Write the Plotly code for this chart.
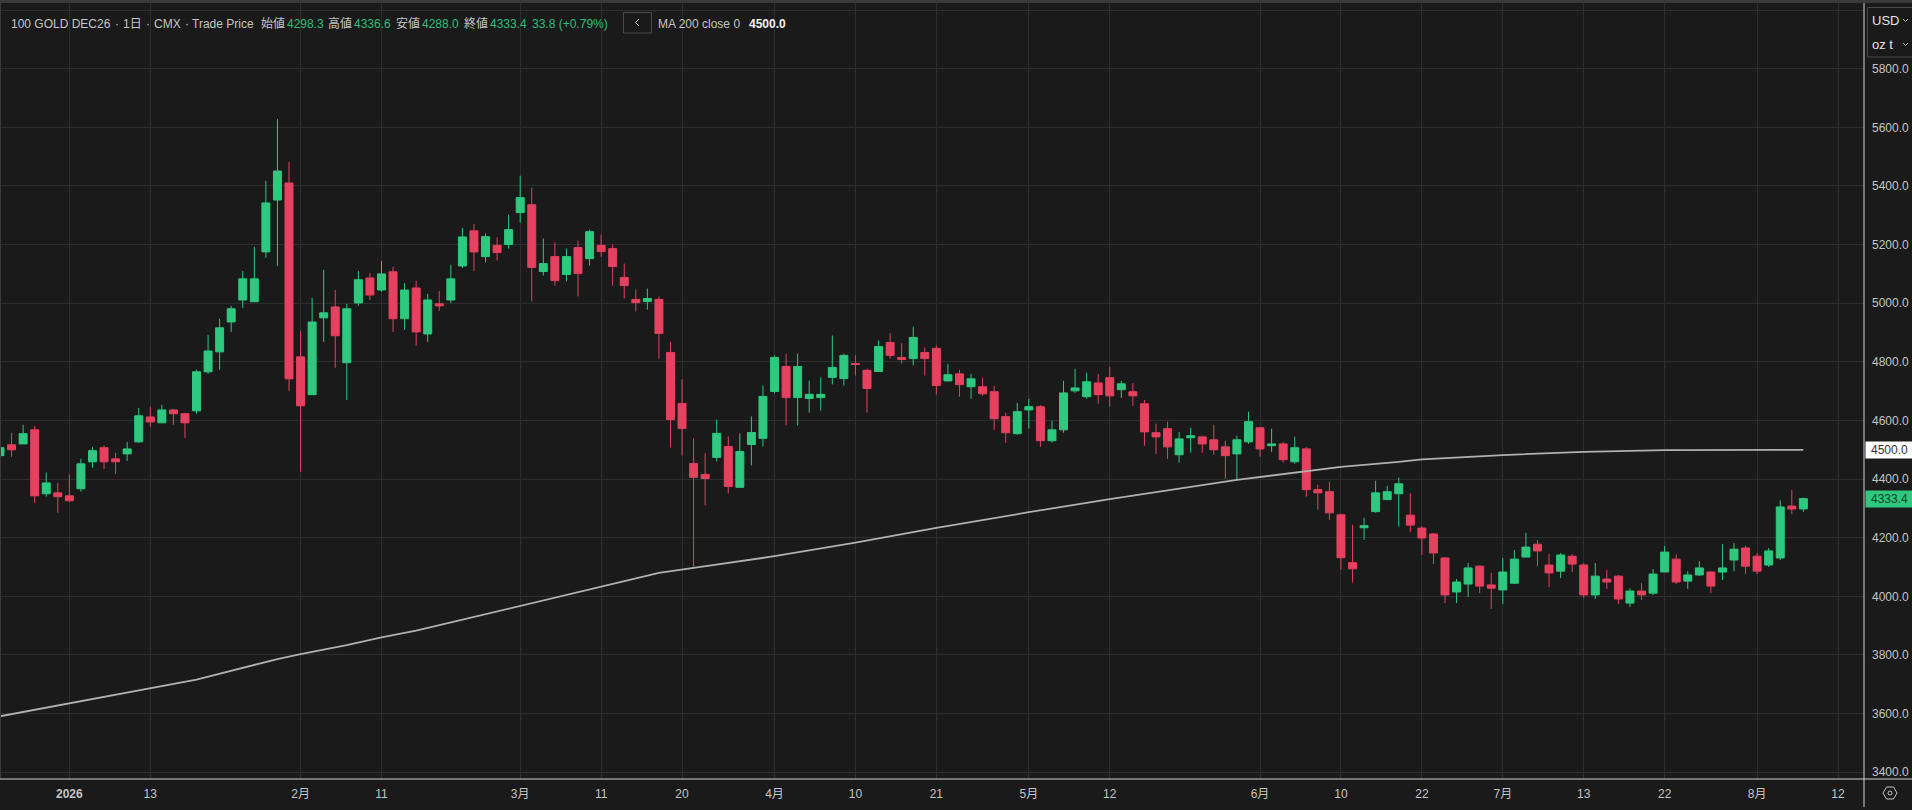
import plotly.graph_objects as go

# ---------- data ----------
opens = [4480,4517,4520,4568,4350,4353,4343,4367,4459,4507,
4469,4486,4527,4612,4592,4636,4623,4633,4766,4834,
4936,5011,5005,5175,5352,5410,4817,4688,4950,4987,
4797,5001,5086,5045,5107,4947,5052,4895,4998,5011,
5127,5247,5159,5197,5200,5309,5336,5108,5159,5098,
5190,5152,5197,5186,5088,5013,5006,5013,4832,4658,
4453,4416,4474,4511,4372,4518,4539,4699,4784,4678,
4675,4678,4747,4743,4794,4771,4767,4866,4815,4811,
4832,4846,4735,4759,4715,4715,4698,4613,4555,4636,
4647,4531,4568,4701,4681,4728,4746,4705,4698,4657,
4558,4572,4483,4541,4544,4534,4510,4486,4527,4575,
4514,4520,4459,4503,4364,4357,4278,4115,4234,4289,
4330,4350,4277,4233,4213,4131,4015,4042,4103,4039,
4022,4045,4134,4178,4107,4086,4137,4107,4005,4059,
4069,3977,4018,4011,4083,4127,4052,4073,4083,4083,
4124,4165,4137,4107,4131,4308,4298.3]
highs = [4514,4558,4585,4582,4422,4387,4415,4469,4510,4514,
4490,4527,4643,4647,4653,4640,4626,4773,4892,4947,
4991,5110,5192,5417,5628,5482,4906,5018,5114,5045,
4998,5110,5103,5144,5124,5069,5076,5032,5042,5131,
5257,5270,5238,5224,5302,5435,5394,5221,5207,5186,
5214,5251,5234,5200,5135,5047,5050,5023,4869,4740,
4539,4488,4603,4546,4556,4614,4719,4822,4828,4828,
4736,4747,4890,4828,4822,4777,4873,4897,4863,4920,
4849,4856,4793,4773,4759,4746,4718,4626,4660,4674,
4653,4599,4735,4776,4763,4759,4783,4735,4728,4670,
4589,4596,4561,4575,4548,4585,4531,4548,4630,4578,
4572,4527,4544,4510,4381,4391,4282,4244,4268,4394,
4377,4405,4352,4240,4216,4134,4059,4114,4106,4080,
4131,4158,4216,4192,4144,4148,4144,4114,4114,4090,
4073,4028,4045,4093,4172,4144,4086,4120,4086,4178,
4182,4172,4148,4165,4328,4363,4336.6]
lows = [4475,4476,4519,4319,4340,4285,4323,4357,4439,4435,
4418,4462,4524,4578,4592,4585,4541,4623,4759,4773,
4902,4984,5005,5155,5127,4701,4425,4688,4868,4780,
4670,4991,5011,5039,4902,4909,4855,4868,4974,5001,
5120,5110,5139,5146,5186,5275,5006,5094,5060,5074,
5023,5128,5159,5060,5016,4972,4978,4811,4508,4481,
4101,4310,4460,4351,4372,4447,4511,4692,4583,4583,
4627,4634,4723,4719,4753,4627,4767,4811,4794,4788,
4753,4689,4733,4681,4674,4684,4568,4524,4551,4572,
4510,4524,4558,4694,4674,4657,4647,4677,4650,4514,
4486,4469,4456,4490,4490,4483,4401,4398,4520,4476,
4493,4456,4452,4340,4296,4261,4091,4047,4193,4285,
4330,4238,4219,4141,4110,3977,3977,3998,4011,3957,
3974,4042,4134,4103,4032,4062,4083,3994,3991,4025,
3974,3964,3988,4005,4083,4042,4025,4069,4011,4056,
4086,4076,4076,4100,4124,4281,4288]
closes = [4507,4500,4555,4343,4387,4340,4326,4452,4497,4459,
4459,4503,4616,4595,4636,4623,4592,4766,4837,4916,
4981,5083,5083,5342,5451,4742,4650,4936,4967,4889,
4981,5080,5028,5100,4947,5045,4902,5011,4991,5083,
5226,5175,5227,5173,5251,5360,5122,5135,5077,5159,
5101,5244,5176,5125,5060,5002,5016,4897,4603,4573,
4406,4402,4556,4375,4494,4559,4682,4815,4678,4784,
4689,4689,4781,4822,4791,4709,4852,4822,4808,4883,
4811,4719,4756,4722,4742,4691,4606,4558,4630,4647,
4531,4568,4694,4711,4732,4688,4684,4725,4684,4561,
4544,4510,4537,4548,4520,4500,4480,4534,4596,4503,
4520,4466,4507,4364,4353,4285,4132,4094,4241,4353,
4357,4384,4243,4199,4148,4005,4049,4097,4035,4028,
4083,4127,4168,4155,4080,4141,4110,4005,4069,4049,
3991,4018,4005,4076,4151,4049,4073,4097,4035,4097,
4161,4103,4086,4155,4305,4298,4333.4]
session_index = list(range(len(opens)))

ma_index = [0,6,13,17,24,26,30,33,36,41,45,49,52,57,60,67,74,81,89,96,107,109,116,121,123,130,137,144,152,156]
ma_values = [3591,3635,3688,3716,3786,3803,3834,3860,3883,3930,3969,4007,4035,4080,4097,4137,4183,4234,4287,4332,4397,4407,4442,4459,4467,4482,4493,4499,4501,4500]

x_tick_index = [6,13,26,33,45,52,59,67,74,81,89,96,109,116,123,130,137,144,152,159]
x_tick_labels = ["<b>2026</b>","13","2月","11","3月","11","20","4月","10","21","5月","12","6月","10","22","7月","13","22","8月","12"]
y_tick_values = [3400,3600,3800,4000,4200,4400,4600,4800,5000,5200,5400,5600,5800,6000]
y_tick_labels = ["3400.0","3600.0","3800.0","4000.0","4200.0","4400.0","4600.0","4800.0","5000.0","5200.0","5400.0","5600.0","5800.0",""]

# ---------- style ----------
BG = "#1a1a1a"
GRID = "#2e2e31"
UP = "#2ec97f"
DOWN = "#e6415f"
TXT = "#c4c4c4"
AXIS = "#d2d2d2"
FONT = "Liberation Sans, Noto Sans CJK JP, sans-serif"
W, H = 1912, 810
L, R, T, B = 0, 1864, 3, 779

def px(x):
    return (x - L) / (R - L)
def py(y):
    return 1 - (y - T) / (B - T)

fig = go.Figure()
fig.add_trace(go.Candlestick(
    x=session_index, open=opens, high=highs, low=lows, close=closes,
    whiskerwidth=0, hoverinfo="skip", showlegend=False,
    increasing=dict(line=dict(color=UP, width=1), fillcolor=UP),
    decreasing=dict(line=dict(color=DOWN, width=1), fillcolor=DOWN),
))
fig.add_trace(go.Scatter(
    x=ma_index, y=ma_values, mode="lines", hoverinfo="skip", showlegend=False,
    line=dict(color="#b0b0b0", width=1.8),
))

shapes = []
def line(x0, y0, x1, y1, color, width=1):
    shapes.append(dict(type="line", xref="paper", yref="paper",
                       x0=px(x0), y0=py(y0), x1=px(x1), y1=py(y1),
                       line=dict(color=color, width=width), layer="above"))
def path(points, color, width=1, close=False):
    d = "M " + " L ".join(f"{px(a):.6f},{py(b):.6f}" for a, b in points) + (" Z" if close else "")
    shapes.append(dict(type="path", xref="paper", yref="paper", path=d,
                       line=dict(color=color, width=width), layer="above"))

# frame
shapes.append(dict(type="rect", xref="paper", yref="paper", x0=0, x1=px(W), y0=py(3), y1=py(0),
                   fillcolor="#3a3a3a", line=dict(width=0), layer="above"))
line(0.5, 3, 0.5, 779, "#3a3a3a")
line(0, 779, W, 779, AXIS)
line(1864, 3, 1864, 807, AXIS)
# unit selector box
shapes.append(dict(type="rect", xref="paper", yref="paper", x0=px(1867.5), x1=px(1914), y0=py(57), y1=py(7.5),
                   fillcolor=BG, line=dict(color="#4a4a4a", width=1), layer="above"))
path([(1903, 19), (1905.5, 21.5), (1908, 19)], "#b5b5b5")
path([(1903, 43), (1905.5, 45.5), (1908, 43)], "#b5b5b5")
# back button in header
shapes.append(dict(type="rect", xref="paper", yref="paper", x0=px(623.5), x1=px(651.5), y0=py(33), y1=py(12.5),
                   fillcolor=BG, line=dict(color="#4a4a4a", width=1), layer="above"))
path([(639, 19), (635.5, 22.5), (639, 26)], "#d0d0d0")
# settings icon
cx, cy = 1890, 793
path([(cx-7, cy), (cx-3.5, cy-6), (cx+3.5, cy-6), (cx+7, cy), (cx+3.5, cy+6), (cx-3.5, cy+6)], "#c4c4c4", close=True)
shapes.append(dict(type="circle", xref="paper", yref="paper", x0=px(cx-2), x1=px(cx+2), y0=py(cy+2), y1=py(cy-2),
                   line=dict(color="#c4c4c4", width=1), layer="above"))

annots = []
def text(x, y, s, color=TXT, size=12, anchor="left"):
    annots.append(dict(xref="paper", yref="paper", x=px(x - 1.5), y=py(y), text=s, showarrow=False,
                       xanchor=anchor, yanchor="middle", align="left",
                       font=dict(family=FONT, size=size, color=color)))

HY = 23.5
HG = "#2fbf7b"
text(10, HY, "100 GOLD DEC26")
text(114, HY, "·"); text(122.5, HY, "1日")
text(145, HY, "·"); text(153, HY, "CMX")
text(184, HY, "·"); text(191, HY, "Trade Price")
text(260, HY, "始値"); text(286, HY, "4298.3", HG)
text(327.5, HY, "高値"); text(353.5, HY, "4336.6", HG)
text(395.5, HY, "安値"); text(421.5, HY, "4288.0", HG)
text(463, HY, "終値"); text(489, HY, "4333.4", HG)
text(531.5, HY, "33.8 (+0.79%)", HG)
text(657, HY, "MA 200 close 0")
text(748, HY, "<b>4500.0</b>", "#f0f0f0")
text(1871, 20, "USD", "#e4e4e4", 13)
text(1871, 44, "oz t", "#e4e4e4", 13)

# price tags on the axis
for val, lab, bg, fg in [(ma_values[-1], "4500.0", "#ffffff", "#333333"),
                         (closes[-1], "4333.4", UP, "#12402b")]:
    annots.append(dict(xref="paper", yref="y", x=px(1864.5), y=val, text=lab, showarrow=False,
                       xanchor="left", yanchor="middle", width=47, height=16, bgcolor=bg, borderpad=0,
                       align="center", font=dict(family=FONT, size=12, color=fg)))

fig.update_layout(
    width=W, height=H, autosize=False,
    paper_bgcolor=BG, plot_bgcolor=BG,
    margin=dict(l=L, r=W - R, t=T, b=H - B, pad=0),
    showlegend=False, hovermode=False, boxgap=0.31, boxgroupgap=0,
    font=dict(family=FONT, size=12, color=TXT),
    shapes=shapes, annotations=annots,
    xaxis=dict(type="linear", range=[0, (R - L) / 11.56], rangeslider=dict(visible=False),
               tickmode="array", tickvals=x_tick_index, ticktext=x_tick_labels,
               showgrid=True, gridcolor=GRID, gridwidth=1, zeroline=False, showline=False,
               ticks="", ticklabelstandoff=6, tickfont=dict(family=FONT, size=12, color=TXT)),
    yaxis=dict(side="right", range=[3377, 6024], tickmode="array", tickvals=y_tick_values, ticktext=y_tick_labels,
               showgrid=True, gridcolor=GRID, gridwidth=1, zeroline=False, showline=False,
               ticks="", ticklabelstandoff=7, tickfont=dict(family=FONT, size=12, color=TXT)),
)

fig.write_html("out.html", config=dict(displayModeBar=False),
               post_script="document.body.style.margin='0';document.body.style.background='#1a1a1a';document.body.style.overflow='hidden';")
